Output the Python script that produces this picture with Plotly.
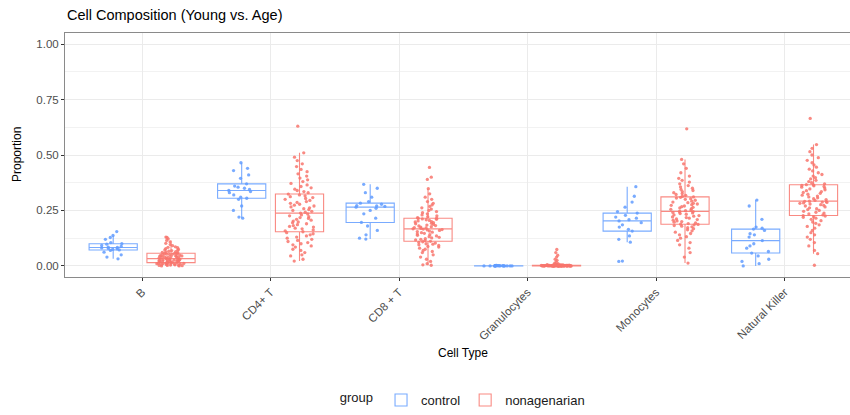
import plotly.graph_objects as go

cell_types = ["B", "CD4+ T", "CD8 + T", "Granulocytes", "Monocytes", "Natural Killer"]
groups = ["control", "nonagenarian"]
colors = {"control": "#619CFF", "nonagenarian": "#F8766D"}

# ---- control (young) proportions, per cell type ----
B_control = [0.032, 0.04, 0.05, 0.062, 0.07, 0.072, 0.075, 0.077, 0.079, 0.081, 0.083,
             0.085, 0.088, 0.092, 0.098, 0.1, 0.105, 0.12, 0.128, 0.137, 0.155]
CD4_control = [0.215, 0.22, 0.25, 0.27, 0.30, 0.305, 0.31, 0.32, 0.33, 0.335, 0.34,
               0.345, 0.35, 0.355, 0.36, 0.37, 0.395, 0.41, 0.43, 0.44, 0.465]
CD8_control = [0.121, 0.125, 0.14, 0.16, 0.18, 0.196, 0.215, 0.235, 0.25, 0.26, 0.265,
               0.268, 0.27, 0.272, 0.278, 0.283, 0.29, 0.31, 0.33, 0.35, 0.368]
Gran_control = [0.0, 0.0, 0.0, 0.001, 0.0, 0.002, 0.001, 0.0, 0.0, 0.001, 0.0,
                0.0, 0.002, 0.001, 0.0, 0.0, 0.001, 0.0, 0.0, 0.001, 0.0]
Mono_control = [0.02, 0.022, 0.107, 0.12, 0.135, 0.157, 0.165, 0.175, 0.185, 0.195, 0.203,
                0.208, 0.215, 0.22, 0.228, 0.238, 0.245, 0.265, 0.288, 0.314, 0.357]
NK_control = [0.0, 0.01, 0.02, 0.03, 0.045, 0.058, 0.065, 0.08, 0.09, 0.1, 0.114,
              0.13, 0.14, 0.145, 0.16, 0.166, 0.17, 0.175, 0.21, 0.27, 0.297]

# ---- nonagenarian proportions, per cell type ----
B_nonagenarian = [0.000, 0.000, 0.001, 0.002, 0.002, 0.003, 0.004, 0.005, 0.006, 0.006, 0.007,
                  0.008, 0.009, 0.010, 0.011, 0.011, 0.012, 0.012, 0.013, 0.014, 0.014, 0.015,
                  0.016, 0.017, 0.018, 0.019, 0.020, 0.021, 0.022, 0.022, 0.023, 0.024, 0.025,
                  0.026, 0.027, 0.027, 0.028, 0.029, 0.030, 0.031, 0.031, 0.032, 0.033,
                  0.035, 0.036, 0.037, 0.038, 0.039, 0.040, 0.041, 0.042, 0.043, 0.044, 0.045,
                  0.046, 0.047, 0.048, 0.050, 0.051, 0.052, 0.053, 0.055, 0.056, 0.057,
                  0.059, 0.061, 0.063, 0.064, 0.066, 0.069, 0.070, 0.072, 0.075, 0.078, 0.082,
                  0.084, 0.086, 0.091, 0.096, 0.102, 0.108, 0.115, 0.122, 0.128, 0.130]
CD4_nonagenarian = [0.022, 0.03, 0.045, 0.05, 0.06, 0.07, 0.075, 0.085, 0.09, 0.095, 0.10,
                    0.105, 0.11, 0.115, 0.12, 0.125, 0.13, 0.135, 0.14, 0.145, 0.15, 0.154,
                    0.158, 0.162, 0.167, 0.17, 0.175, 0.178, 0.182, 0.186, 0.19, 0.195, 0.198,
                    0.202, 0.206, 0.21, 0.214, 0.218, 0.222, 0.226, 0.23, 0.234, 0.238,
                    0.242, 0.246, 0.25, 0.254, 0.258, 0.262, 0.266, 0.27, 0.274, 0.278, 0.282,
                    0.286, 0.29, 0.295, 0.3, 0.304, 0.308, 0.312, 0.316, 0.32, 0.324,
                    0.33, 0.335, 0.34, 0.346, 0.352, 0.358, 0.365, 0.372, 0.38, 0.388, 0.396,
                    0.405, 0.415, 0.425, 0.435, 0.448, 0.46, 0.475, 0.49, 0.51, 0.63]
CD8_nonagenarian = [0.003, 0.005, 0.01, 0.02, 0.03, 0.04, 0.05, 0.06, 0.065, 0.07, 0.075,
                    0.08, 0.085, 0.088, 0.092, 0.095, 0.098, 0.1, 0.103, 0.106, 0.109, 0.111,
                    0.114, 0.117, 0.12, 0.123, 0.126, 0.129, 0.132, 0.135, 0.138, 0.141, 0.144,
                    0.147, 0.15, 0.152, 0.155, 0.157, 0.16, 0.162, 0.164, 0.166, 0.167,
                    0.169, 0.171, 0.173, 0.175, 0.177, 0.18, 0.182, 0.184, 0.187, 0.19, 0.192,
                    0.195, 0.198, 0.2, 0.203, 0.205, 0.208, 0.21, 0.212, 0.214, 0.215,
                    0.218, 0.222, 0.226, 0.23, 0.235, 0.24, 0.245, 0.25, 0.256, 0.262, 0.268,
                    0.275, 0.282, 0.29, 0.3, 0.31, 0.325, 0.348, 0.39, 0.40, 0.444]
Gran_nonagenarian = [0.0, 0.0, 0.001, 0.0, 0.002, 0.0, 0.001, 0.003, 0.0, 0.0, 0.002,
                     0.001, 0.0, 0.004, 0.0, 0.001, 0.0, 0.002, 0.0, 0.003, 0.001, 0.0,
                     0.0, 0.002, 0.001, 0.0, 0.005, 0.0, 0.001, 0.0, 0.002, 0.0, 0.003,
                     0.001, 0.0, 0.0, 0.002, 0.001, 0.004, 0.0, 0.0, 0.001, 0.002,
                     0.0, 0.003, 0.001, 0.0, 0.002, 0.0, 0.001, 0.005, 0.0, 0.002, 0.001,
                     0.0, 0.003, 0.0, 0.001, 0.002, 0.0, 0.004, 0.001, 0.0, 0.002,
                     0.006, 0.0, 0.001, 0.003, 0.0, 0.002, 0.004, 0.001, 0.0, 0.003, 0.002,
                     0.008, 0.010, 0.012, 0.018, 0.025, 0.030, 0.040, 0.048, 0.060, 0.074]
Mono_nonagenarian = [0.013, 0.04, 0.06, 0.08, 0.095, 0.105, 0.115, 0.125, 0.132, 0.14, 0.146,
                     0.152, 0.158, 0.163, 0.168, 0.172, 0.176, 0.179, 0.182, 0.185, 0.187, 0.188,
                     0.191, 0.194, 0.197, 0.2, 0.203, 0.206, 0.209, 0.212, 0.215, 0.218, 0.221,
                     0.224, 0.227, 0.23, 0.233, 0.236, 0.239, 0.241, 0.243, 0.245, 0.246,
                     0.249, 0.252, 0.255, 0.258, 0.261, 0.264, 0.267, 0.27, 0.273, 0.276, 0.279,
                     0.282, 0.285, 0.288, 0.292, 0.296, 0.3, 0.303, 0.306, 0.309, 0.311,
                     0.314, 0.318, 0.322, 0.326, 0.33, 0.335, 0.34, 0.345, 0.35, 0.356, 0.362,
                     0.37, 0.378, 0.386, 0.395, 0.405, 0.42, 0.44, 0.46, 0.48, 0.618]
NK_nonagenarian = [0.003, 0.055, 0.07, 0.09, 0.105, 0.12, 0.13, 0.14, 0.15, 0.16, 0.17,
                   0.178, 0.185, 0.192, 0.198, 0.204, 0.21, 0.215, 0.219, 0.222, 0.225, 0.227,
                   0.23, 0.234, 0.238, 0.242, 0.246, 0.25, 0.254, 0.258, 0.262, 0.266, 0.27,
                   0.273, 0.276, 0.279, 0.282, 0.284, 0.286, 0.288, 0.29, 0.291, 0.292,
                   0.295, 0.299, 0.303, 0.307, 0.311, 0.315, 0.319, 0.323, 0.327, 0.331, 0.335,
                   0.339, 0.343, 0.347, 0.351, 0.355, 0.358, 0.361, 0.363, 0.365, 0.366,
                   0.37, 0.375, 0.38, 0.386, 0.392, 0.398, 0.405, 0.412, 0.42, 0.428, 0.436,
                   0.445, 0.455, 0.465, 0.476, 0.488, 0.5, 0.515, 0.53, 0.547, 0.665]

y_ticks = [0.0, 0.25, 0.5, 0.75, 1.0]
y_tick_labels = ["0.00", "0.25", "0.50", "0.75", "1.00"]

data = {
    "control": [B_control, CD4_control, CD8_control, Gran_control, Mono_control, NK_control],
    "nonagenarian": [B_nonagenarian, CD4_nonagenarian, CD8_nonagenarian,
                     Gran_nonagenarian, Mono_nonagenarian, NK_nonagenarian],
}

def rgba(hex_color, a):
    h = hex_color.lstrip("#")
    r, g, b = int(h[0:2], 16), int(h[2:4], 16), int(h[4:6], 16)
    return f"rgba({r},{g},{b},{a})"

fig = go.Figure()
for grp in groups:
    xs, ys = [], []
    for ct, vals in zip(cell_types, data[grp]):
        xs.extend([ct] * len(vals))
        ys.extend(vals)
    fig.add_trace(go.Box(
        x=xs, y=ys, name=grp, offsetgroup=grp,
        boxpoints="all", jitter=0.65, pointpos=0,
        quartilemethod="inclusive",
        whiskerwidth=0,
        line=dict(color=rgba(colors[grp], 0.85), width=1.1),
        fillcolor="rgba(255,255,255,0)",
        marker=dict(color=colors[grp], size=3.3, opacity=0.85, line=dict(width=0)),
        hoveron="boxes+points",
    ))

L, T, B_ = 65, 33, 135
W, H = 850, 415
pw = W - L
ph = H - T - B_
unit = 128.5

fig.update_layout(
    width=W, height=H,
    margin=dict(l=L, r=0, t=T, b=B_, pad=0),
    paper_bgcolor="white", plot_bgcolor="white",
    boxmode="group", boxgap=0.1, boxgroupgap=0.1667,
    font=dict(family="Liberation Sans, Arial, sans-serif", color="#4D4D4D", size=11),
    showlegend=True,
    legend=dict(
        orientation="h", x=0.508, xanchor="center", y=(280 - 405) / ph, yanchor="middle",
        title=dict(text="group", side="left", font=dict(size=13, color="#1a1a1a")),
        font=dict(size=13, color="#1a1a1a"),
        itemwidth=30, tracegroupgap=0, bgcolor="rgba(0,0,0,0)",
    ),
    xaxis=dict(
        type="category", categoryorder="array", categoryarray=cell_types,
        range=[-0.6, -0.6 + pw / unit],
        showgrid=True, gridcolor="#EBEBEB", gridwidth=1.1,
        showline=True, linecolor="#8a8a8a", linewidth=1, mirror=True,
        ticks="outside", ticklen=3, tickcolor="#333333", tickwidth=1,
        tickangle=-45, tickfont=dict(size=11.5, color="#4D4D4D"),
        zeroline=False,
    ),
    yaxis=dict(
        range=[-0.05, 1.05],
        tickvals=y_ticks, ticktext=y_tick_labels,
        showgrid=True, gridcolor="#EBEBEB", gridwidth=1.1,
        minor=dict(tickvals=[0.125, 0.375, 0.625, 0.875], showgrid=True,
                   gridcolor="#F2F2F2", gridwidth=0.6, ticks=""),
        showline=True, linecolor="#8a8a8a", linewidth=1,
        ticks="outside", ticklen=3, tickcolor="#333333", tickwidth=1,
        tickfont=dict(size=11.5, color="#4D4D4D"),
        zeroline=False,
    ),
    annotations=[
        dict(text="Cell Composition (Young vs. Age)", xref="paper", yref="paper",
             x=0, y=(280 - 15) / ph, xanchor="left", yanchor="middle",
             showarrow=False, font=dict(size=14.5, color="#000000")),
        dict(text="Proportion", xref="paper", yref="paper",
             x=(17 - L) / pw, y=0.5, xanchor="center", yanchor="middle", textangle=-90,
             showarrow=False, font=dict(size=12, color="#000000")),
        dict(text="Cell Type", xref="paper", yref="paper",
             x=(463 - L) / pw, y=(280 - 357) / ph, xanchor="center", yanchor="middle",
             showarrow=False, font=dict(size=12, color="#000000")),
    ],
)

fig.write_html("out.html")
